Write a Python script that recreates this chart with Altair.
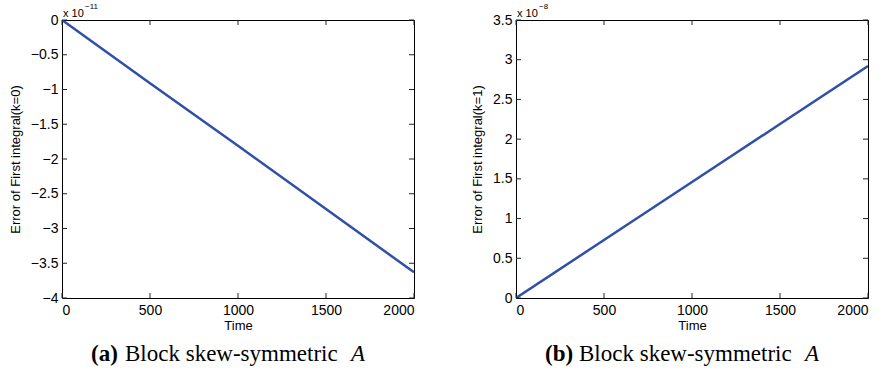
import altair as alt
import pandas as pd

# ---- data (values in the scaled units shown on the axes) ----
time = [0, 500, 1000, 1500, 2000]
err_k0 = [0.0, -0.91, -1.81, -2.72, -3.63]   # x 1e-11
err_k1 = [0.0, 0.73, 1.46, 2.19, 2.92]       # x 1e-8
x_ticks = [0, 500, 1000, 1500, 2000]
y_ticks_a = [0, -0.5, -1, -1.5, -2, -2.5, -3, -3.5, -4]
y_ticks_b = [0, 0.5, 1, 1.5, 2, 2.5, 3, 3.5]
y_domain_a = [-4, 0]
y_domain_b = [0, 3.5]
y_titles = ["Error of First integral(k=0)", "Error of First integral(k=1)"]
x_title = "Time"
exponents = ["\u221211", "\u22128"]
panel_tags = ["(a)", "(b)"]
caption_body = "Block skew-symmetric"
caption_var = "A"

W, H = 352, 278
LINE_COLOR = "#3050a8"
SANS = "Liberation Sans"
SERIF = "Liberation Serif"
TICK = 5


def panel(values, yticks, ydomain, ytitle, exp, tag):
    df = pd.DataFrame({"Time": time, "Error": values})
    xs = alt.Scale(domain=[0, 2000], nice=False, zero=False)
    ys = alt.Scale(domain=ydomain, nice=False, zero=False)
    xax = alt.Axis(values=x_ticks, title=x_title, format="d", ticks=False,
                   domain=False, grid=False, labelPadding=5, titlePadding=2)
    yax = alt.Axis(values=yticks, title=ytitle, format=".1~f", ticks=False,
                   domain=False, grid=False, labelPadding=4, titlePadding=8)

    line = alt.Chart(df).mark_line(color=LINE_COLOR, strokeWidth=2.5, clip=True).encode(
        x=alt.X("Time:Q", scale=xs, axis=xax),
        y=alt.Y("Error:Q", scale=ys, axis=yax),
    )

    xt = pd.DataFrame({"Time": x_ticks})
    yt = pd.DataFrame({"Error": yticks})
    tick_color = "#222222"
    bottom = alt.Chart(xt).mark_rule(color=tick_color, strokeWidth=1).encode(
        x=alt.X("Time:Q", scale=xs, axis=xax), y=alt.value(H), y2=alt.value(H - TICK))
    top = alt.Chart(xt).mark_rule(color=tick_color, strokeWidth=1).encode(
        x=alt.X("Time:Q", scale=xs, axis=xax), y=alt.value(0), y2=alt.value(TICK))
    left = alt.Chart(yt).mark_rule(color=tick_color, strokeWidth=1).encode(
        y=alt.Y("Error:Q", scale=ys, axis=yax), x=alt.value(0), x2=alt.value(TICK))
    right = alt.Chart(yt).mark_rule(color=tick_color, strokeWidth=1).encode(
        y=alt.Y("Error:Q", scale=ys, axis=yax), x=alt.value(W), x2=alt.value(W - TICK))

    one = pd.DataFrame({"k": [0]})
    x10 = alt.Chart(one).mark_text(text="x 10", font=SANS, fontSize=11, align="left",
                                   baseline="alphabetic", color="black").encode(
        x=alt.value(1), y=alt.value(-3))
    expo = alt.Chart(one).mark_text(text=exp, font=SANS, fontSize=8, align="left",
                                    baseline="alphabetic", color="black").encode(
        x=alt.value(23), y=alt.value(-11))

    cap_tag = alt.Chart(one).mark_text(text=tag, font=SERIF, fontSize=23, fontWeight="bold",
                                       align="left", baseline="alphabetic", color="black").encode(
        x=alt.value(29), y=alt.value(341))
    cap_body = alt.Chart(one).mark_text(text=caption_body, font=SERIF, fontSize=23,
                                        align="left", baseline="alphabetic", color="black").encode(
        x=alt.value(63), y=alt.value(341))
    cap_var = alt.Chart(one).mark_text(text=caption_var, font=SERIF, fontSize=23,
                                       fontStyle="italic", align="left", baseline="alphabetic",
                                       color="black").encode(
        x=alt.value(289), y=alt.value(341))

    return alt.layer(line, bottom, top, left, right, x10, expo, cap_tag, cap_body, cap_var).properties(
        width=W, height=H)


chart = alt.hconcat(
    panel(err_k0, y_ticks_a, y_domain_a, y_titles[0], exponents[0], panel_tags[0]),
    panel(err_k1, y_ticks_b, y_domain_b, y_titles[1], exponents[1], panel_tags[1]),
    spacing=102,
    bounds="flush",
).configure_view(
    stroke="black", strokeWidth=1
).configure_axis(
    labelFont=SANS, labelFontSize=14, labelColor="black",
    titleFont=SANS, titleFontSize=13, titleFontWeight="normal", titleColor="black",
).properties(
    padding={"left": 8, "top": 2, "right": 2, "bottom": 5},
    background="white",
)

chart.save("out.html", embed_options={"renderer": "svg", "actions": False})
